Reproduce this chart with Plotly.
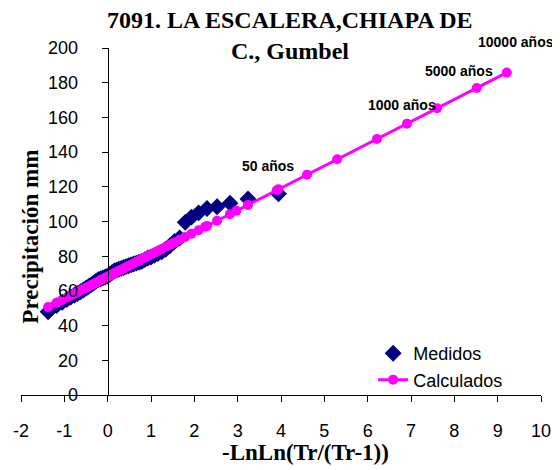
import plotly.graph_objects as go

# ---- Data -------------------------------------------------------------
medidos_x = [3.942, 3.239, 2.823, 2.525, 2.292, 2.099, 1.934, 1.790, 1.661, 1.544,
             1.437, 1.338, 1.246, 1.159, 1.078, 1.000, 0.927, 0.856, 0.788, 0.723,
             0.659, 0.598, 0.538, 0.480, 0.423, 0.367, 0.312, 0.257, 0.204, 0.151,
             0.098, 0.046, -0.007, -0.059, -0.112, -0.164, -0.218, -0.272, -0.327, -0.383,
             -0.440, -0.500, -0.562, -0.627, -0.696, -0.770, -0.851, -0.942, -1.048, -1.181,
             -1.374]
medidos_y = [116.0, 113.0, 110.5, 108.5, 107.5, 105.0, 102.5, 99.5, 90.5, 88.5,
             86.0, 84.0, 82.5, 81.5, 80.5, 79.5, 79.0, 78.0, 77.0, 76.5,
             76.0, 75.5, 75.0, 74.5, 74.0, 73.5, 73.0, 72.5, 72.0, 71.5,
             70.5, 69.5, 68.5, 68.0, 67.5, 67.0, 66.5, 65.5, 64.5, 63.5,
             62.5, 61.5, 60.5, 59.5, 58.5, 57.5, 56.5, 55.0, 53.5, 51.5,
             48.0]

calc_x = [-1.374, -1.181, -1.048, -0.942, -0.851, -0.770, -0.696, -0.627, -0.562, -0.500,
          -0.440, -0.383, -0.327, -0.272, -0.218, -0.164, -0.112, -0.059, -0.007, 0.046,
          0.098, 0.151, 0.204, 0.257, 0.312, 0.367, 0.423, 0.480, 0.538, 0.598,
          0.659, 0.723, 0.788, 0.856, 0.927, 1.000, 1.078, 1.159, 1.246, 1.338,
          1.437, 1.500, 1.544, 1.661, 1.790, 1.934, 2.099, 2.250, 2.292, 2.525,
          2.823, 2.970, 3.239, 3.902, 3.942, 4.600, 5.296, 6.214, 6.907, 7.601,
          8.517, 9.210]
calc_y = [50.65, 53.12, 54.82, 56.17, 57.33, 58.37, 59.31, 60.19, 61.02, 61.82,
          62.58, 63.31, 64.02, 64.73, 65.42, 66.11, 66.77, 67.45, 68.11, 68.79,
          69.45, 70.13, 70.81, 71.48, 72.18, 72.89, 73.60, 74.33, 75.07, 75.84,
          76.62, 77.43, 78.26, 79.13, 80.04, 80.97, 81.97, 83.00, 84.11, 85.29,
          86.55, 87.35, 87.92, 89.41, 91.06, 92.90, 95.00, 96.93, 97.47, 100.44,
          104.25, 106.13, 109.56, 118.03, 118.54, 126.94, 135.83, 147.55, 156.41, 165.26,
          176.96, 185.82]

# return-period labels: (index into calc arrays, text, x shift px, y shift px)
label_idx = [53, 58, 60, 61]
label_text = ["50 años", "1000 años", "5000 años", "10000 años"]
label_dx = [-9, -5, -18, 9]
label_dy = [24, 19, 17, 31]

x_ticks = list(range(-2, 11))
y_ticks = list(range(0, 201, 20))

title_lines = ["7091. LA ESCALERA,CHIAPA DE", "C., Gumbel"]
x_title = "-LnLn(Tr/(Tr-1))"
y_title = "Precipitación mm"

# ---- Figure -------------------------------------------------------------
serif = "Liberation Serif, Times New Roman, serif"
sans = "Liberation Sans, Arial, sans-serif"

# the page body has an 8px margin; the figure is shifted accordingly
OX, OY = 8, 8
W, H = 560 - OX, 470 - OY
# plot area in page pixels: x 20.5..541, y 47.7..395
ml, mr, mt, mb = 20.5 - OX, 560 - 541, 47.7 - OY, 470 - 395
pw, ph = W - ml - mr, H - mt - mb


def px_to_paper(px, py):
    # page pixel -> paper fraction
    fx, fy = px - OX, py - OY
    return (fx - ml) / pw, (H - mb - fy) / ph


fig = go.Figure()
fig.add_trace(go.Scatter(
    x=medidos_x, y=medidos_y, mode="markers", name="Medidos",
    marker=dict(symbol="diamond", size=13, color="#000080"),
))
fig.add_trace(go.Scatter(
    x=calc_x, y=calc_y, mode="lines+markers", name="Calculados",
    line=dict(color="#FF00FF", width=3),
    marker=dict(symbol="circle", size=10, color="#FF00FF"),
))

annotations = []
for i, t, dx, dy in zip(label_idx, label_text, label_dx, label_dy):
    annotations.append(dict(
        x=calc_x[i], y=calc_y[i], xref="x", yref="y", text="<b>" + t + "</b>",
        showarrow=False, xshift=dx, yshift=dy,
        font=dict(family=sans, size=14, color="black"),
    ))

# title lines and axis titles (positions in page pixels -> paper)
for txt, (px, py), ang, sz in [
    (title_lines[0], (290, 20), 0, 24),
    (title_lines[1], (290, 51), 0, 24),
    (x_title, (305, 453), 0, 23),
    (y_title, (30, 236), -90, 23),
]:
    xp, yp = px_to_paper(px, py)
    annotations.append(dict(
        x=xp, y=yp, xref="paper", yref="paper", text="<b>" + txt + "</b>",
        showarrow=False, textangle=ang, xanchor="center", yanchor="middle",
        font=dict(family=serif, size=sz, color="black"),
    ))

lx, ly = px_to_paper(373, 335)

fig.update_layout(
    width=W, height=H,
    margin=dict(l=ml, r=mr, t=mt, b=mb, autoexpand=False),
    paper_bgcolor="white", plot_bgcolor="white",
    xaxis=dict(
        range=[-2, 10], tickvals=x_ticks, ticktext=[str(v) for v in x_ticks],
        showgrid=False, zeroline=False, showline=True, linecolor="black", linewidth=1,
        ticks="outside", ticklen=6, tickcolor="black", ticklabelstandoff=13,
        tickfont=dict(family=sans, size=18, color="black"), automargin=False,
    ),
    yaxis=dict(
        range=[0, 200], tickvals=y_ticks, ticktext=[str(v) for v in y_ticks],
        anchor="free", position=2 / 12,
        showgrid=False, zeroline=False, showline=True, linecolor="black", linewidth=1,
        ticks="outside", ticklen=6, tickcolor="black", ticklabelstandoff=20,
        tickfont=dict(family=sans, size=18, color="black"), automargin=False,
    ),
    legend=dict(
        x=lx, y=ly, xanchor="left", yanchor="top",
        bgcolor="rgba(0,0,0,0)", font=dict(family=sans, size=18, color="black"),
    ),
    annotations=annotations,
)

fig.write_html("out.html")
